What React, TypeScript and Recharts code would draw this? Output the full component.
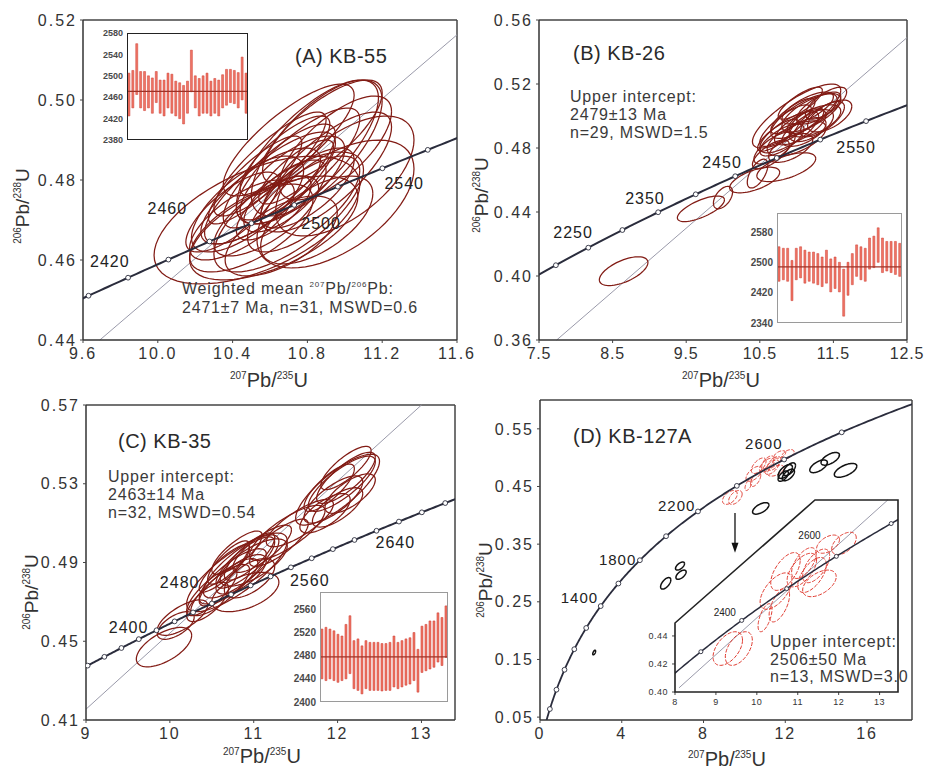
import React from 'react';
import { ScatterChart, Scatter, XAxis, YAxis, ReferenceLine, ReferenceDot, BarChart, Bar } from 'recharts';

type Ell = [number, number, number, number, number]; // centre x, centre y, half-width x, half-width y, error correlation
type Pt = { x: number; y: number };

const FONT = '"Liberation Sans", Arial, Helvetica, sans-serif';
const CURVE = '#2a2c3c';
const BROWN = '#821c15';

// U decay constants (per Ma)
const L238 = 1.55125e-4;
const L235 = 9.8485e-4;

// ---------------- Panel A: KB-55 ----------------
const ellipsesA: Ell[] = [
  [10.53, 0.470, 0.55, 0.016, 0.55], [10.62, 0.468, 0.45, 0.013, 0.6], [10.70, 0.472, 0.40, 0.015, 0.7],
  [10.95, 0.474, 0.42, 0.016, 0.55], [11.00, 0.481, 0.37, 0.015, 0.6], [10.85, 0.488, 0.35, 0.017, 0.7],
  [10.80, 0.487, 0.38, 0.018, 0.75], [10.60, 0.478, 0.35, 0.014, 0.8], [10.55, 0.476, 0.32, 0.012, 0.75],
  [10.65, 0.481, 0.30, 0.013, 0.8], [10.72, 0.480, 0.28, 0.011, 0.7], [10.48, 0.474, 0.30, 0.012, 0.7],
  [10.58, 0.471, 0.28, 0.010, 0.7], [10.75, 0.484, 0.33, 0.014, 0.8], [10.90, 0.482, 0.35, 0.015, 0.75],
  [10.68, 0.476, 0.22, 0.009, 0.7], [10.62, 0.473, 0.20, 0.008, 0.7], [10.80, 0.478, 0.25, 0.010, 0.7],
  [10.50, 0.468, 0.33, 0.011, 0.65], [10.45, 0.470, 0.28, 0.010, 0.7], [10.70, 0.490, 0.35, 0.014, 0.8],
  [10.88, 0.492, 0.32, 0.013, 0.75], [10.60, 0.484, 0.30, 0.013, 0.85], [10.40, 0.472, 0.25, 0.010, 0.75],
  [10.85, 0.470, 0.30, 0.011, 0.6], [10.66, 0.466, 0.30, 0.010, 0.6], [10.78, 0.474, 0.30, 0.012, 0.7],
  [10.95, 0.488, 0.30, 0.013, 0.7], [10.52, 0.480, 0.25, 0.011, 0.85], [10.74, 0.482, 0.20, 0.008, 0.8],
  [10.68, 0.486, 0.24, 0.010, 0.8],
];
const markerAgesA = [2400, 2420, 2440, 2460, 2480, 2500, 2520, 2540, 2560, 2580];
const labelAgesA = [2420, 2460, 2500, 2540];
const discordiaA: [Pt, Pt] = [{ x: 9.69, y: 0.44 }, { x: 11.6, y: 0.5163 }];
const spotAgesA: [number, number][] = [
  [2425, 2505], [2440, 2510], [2465, 2560], [2440, 2508], [2435, 2508], [2440, 2500], [2430, 2496], [2450, 2508],
  [2430, 2492], [2425, 2492], [2440, 2505], [2430, 2503], [2425, 2490], [2420, 2487], [2410, 2482], [2430, 2490],
  [2470, 2548], [2440, 2500], [2425, 2495], [2430, 2500], [2430, 2505], [2425, 2490], [2430, 2495], [2425, 2492],
  [2440, 2502], [2445, 2512], [2450, 2512], [2448, 2510], [2440, 2506], [2455, 2535], [2430, 2505],
];
const meanAgeA = 2471;

// ---------------- Panel B: KB-26 ----------------
const ellipsesB: Ell[] = [
  [8.65, 0.403, 0.33, 0.009, 0.6], [9.70, 0.442, 0.32, 0.008, 0.7], [10.0, 0.449, 0.13, 0.007, 0.5],
  [10.43, 0.460, 0.34, 0.008, 0.6], [10.86, 0.468, 0.40, 0.009, 0.6], [10.47, 0.464, 0.14, 0.009, 0.6],
  [11.00, 0.500, 0.60, 0.020, 0.8], [11.10, 0.500, 0.45, 0.014, 0.75], [10.90, 0.490, 0.40, 0.013, 0.75],
  [11.20, 0.502, 0.40, 0.012, 0.7], [11.05, 0.493, 0.35, 0.011, 0.7], [10.80, 0.485, 0.30, 0.010, 0.7],
  [11.25, 0.497, 0.35, 0.010, 0.6], [11.15, 0.505, 0.35, 0.010, 0.7], [10.95, 0.500, 0.30, 0.011, 0.8],
  [11.30, 0.505, 0.30, 0.010, 0.7], [10.70, 0.480, 0.28, 0.010, 0.7], [11.00, 0.486, 0.40, 0.011, 0.6],
  [11.35, 0.498, 0.30, 0.011, 0.7], [11.10, 0.490, 0.30, 0.009, 0.6], [10.85, 0.494, 0.35, 0.013, 0.8],
  [11.40, 0.508, 0.28, 0.010, 0.7], [11.20, 0.494, 0.30, 0.010, 0.6], [10.75, 0.488, 0.28, 0.010, 0.8],
  [11.05, 0.508, 0.30, 0.010, 0.8], [11.45, 0.500, 0.30, 0.010, 0.6], [10.65, 0.476, 0.25, 0.009, 0.7],
  [11.12, 0.497, 0.25, 0.008, 0.7], [10.92, 0.480, 0.30, 0.009, 0.6],
];
const markerAgesB = [2150, 2200, 2250, 2300, 2350, 2400, 2450, 2500, 2550, 2600, 2650];
const labelAgesB = [2250, 2350, 2450, 2550];
const discordiaB: [Pt, Pt] = [{ x: 7.74, y: 0.36 }, { x: 12.5, y: 0.549 }];
const spotAgesB: [number, number][] = [
  [2450, 2541], [2454, 2537], [2450, 2537], [2399, 2505], [2454, 2537], [2459, 2541], [2445, 2532], [2450, 2527],
  [2445, 2527], [2441, 2523], [2436, 2514], [2445, 2532], [2422, 2509], [2431, 2514], [2422, 2500], [2358, 2482],
  [2413, 2500], [2441, 2523], [2463, 2546], [2454, 2541], [2450, 2537], [2482, 2564], [2486, 2569], [2500, 2591],
  [2473, 2564], [2477, 2555], [2473, 2555], [2468, 2555], [2463, 2550],
];
const meanAgeB = 2488;

// ---------------- Panel C: KB-35 ----------------
const ellipsesC: Ell[] = [
  [9.93, 0.447, 0.33, 0.010, 0.6], [10.07, 0.458, 0.22, 0.007, 0.6], [10.15, 0.462, 0.30, 0.009, 0.7],
  [10.80, 0.485, 0.60, 0.020, 0.8], [10.85, 0.488, 0.45, 0.016, 0.8], [10.75, 0.483, 0.40, 0.014, 0.8],
  [10.90, 0.490, 0.35, 0.013, 0.8], [10.70, 0.480, 0.35, 0.012, 0.8], [10.95, 0.493, 0.30, 0.012, 0.8],
  [10.60, 0.476, 0.35, 0.013, 0.8], [10.85, 0.484, 0.30, 0.010, 0.7], [11.00, 0.490, 0.40, 0.012, 0.7],
  [10.65, 0.487, 0.30, 0.012, 0.85], [10.80, 0.495, 0.30, 0.011, 0.8], [10.50, 0.475, 0.30, 0.012, 0.8],
  [10.95, 0.482, 0.30, 0.010, 0.6], [10.70, 0.490, 0.25, 0.011, 0.8], [10.45, 0.470, 0.25, 0.010, 0.7],
  [11.10, 0.497, 0.35, 0.012, 0.8], [10.90, 0.475, 0.40, 0.010, 0.5], [11.40, 0.505, 0.45, 0.014, 0.8],
  [11.55, 0.510, 0.40, 0.012, 0.8], [11.30, 0.500, 0.35, 0.012, 0.8], [12.00, 0.527, 0.50, 0.018, 0.8],
  [12.05, 0.530, 0.40, 0.014, 0.8], [11.95, 0.522, 0.35, 0.012, 0.75], [12.10, 0.533, 0.35, 0.013, 0.8],
  [11.90, 0.528, 0.30, 0.012, 0.8], [12.15, 0.525, 0.30, 0.010, 0.7], [12.00, 0.518, 0.30, 0.010, 0.7],
  [11.85, 0.515, 0.30, 0.010, 0.7], [12.10, 0.538, 0.30, 0.011, 0.8],
];
const markerAgesC = [2340, 2360, 2380, 2400, 2420, 2440, 2460, 2480, 2500, 2520, 2540, 2560, 2580, 2600, 2620, 2640, 2660, 2680, 2700];
const labelAgesC = [2400, 2480, 2560, 2640];
const discordiaC: [Pt, Pt] = [{ x: 9.0, y: 0.4155 }, { x: 13.0, y: 0.57 }];
const spotAgesC: [number, number][] = [
  [2440, 2526], [2437, 2529], [2440, 2526], [2437, 2523], [2434, 2517], [2437, 2514], [2440, 2534], [2449, 2549],
  [2423, 2506], [2420, 2509], [2414, 2497], [2423, 2506], [2420, 2503], [2420, 2503], [2420, 2503], [2419, 2501],
  [2420, 2501], [2420, 2503], [2426, 2514], [2423, 2503], [2426, 2506], [2429, 2509], [2431, 2511], [2437, 2520],
  [2417, 2491], [2451, 2531], [2454, 2534], [2457, 2540], [2460, 2540], [2469, 2554], [2463, 2546], [2477, 2566],
];
const meanAgeC = 2478;

// ---------------- Panel D: KB-127A ----------------
const ellipsesDConcordant: Ell[] = [
  [9.29, 0.431, 0.36, 0.012, 0.5], [9.56, 0.431, 0.33, 0.012, 0.5], [10.20, 0.453, 0.17, 0.010, 0.6],
  [10.47, 0.472, 0.39, 0.013, 0.6], [10.70, 0.486, 0.36, 0.0135, 0.6], [11.10, 0.487, 0.36, 0.012, 0.6],
  [11.35, 0.4835, 0.35, 0.0125, 0.6], [11.53, 0.4775, 0.41, 0.0095, 0.5], [11.74, 0.5055, 0.28, 0.0065, 0.5],
  [12.13, 0.506, 0.30, 0.008, 0.5], [11.15, 0.492, 0.30, 0.011, 0.6], [11.45, 0.490, 0.33, 0.012, 0.6],
  [10.55, 0.462, 0.25, 0.012, 0.6],
];
const ellipsesDOther: Ell[] = [
  [12.00, 0.476, 0.35, 0.012, 0.6], [12.15, 0.470, 0.30, 0.010, 0.6], [12.20, 0.480, 0.30, 0.011, 0.6],
  [11.90, 0.468, 0.25, 0.009, 0.6], [13.63, 0.485, 0.43, 0.011, 0.6], [14.20, 0.498, 0.45, 0.011, 0.6],
  [14.95, 0.478, 0.55, 0.012, 0.6], [10.80, 0.412, 0.40, 0.010, 0.6], [6.15, 0.282, 0.25, 0.010, 0.6],
  [6.85, 0.312, 0.22, 0.007, 0.6], [6.90, 0.297, 0.25, 0.008, 0.6], [2.65, 0.162, 0.07, 0.004, 0.6],
];
const markerAgesD = [200, 400, 600, 800, 1000, 1200, 1400, 1600, 1800, 2000, 2200, 2400, 2600, 2800];
const labelAgesD = [1400, 1800, 2200, 2600];
const markerAgesDInset = [2300, 2400, 2500, 2600, 2700];
const labelAgesDInset = [2400, 2600];
const discordiaDInset: [Pt, Pt] = [{ x: 8.1, y: 0.403 }, { x: 13.2, y: 0.537 }];

// ---------------- helpers ----------------
const onConcordia = (t: number) => ({ x: Math.expm1(L235 * t), y: Math.expm1(L238 * t), age: t });

function ageSteps(from: number, to: number, step: number): number[] {
  const out: number[] = [];
  for (let t = from; t <= to + 1e-9; t += step) out.push(t);
  return out;
}

function ellipseOutline([cx, cy, a, b, r]: Ell): Pt[] {
  const s = Math.sqrt(1 - r * r);
  const pts: Pt[] = [];
  for (let i = 0; i <= 64; i++) {
    const t = (i / 64) * Math.PI * 2;
    pts.push({ x: cx + a * Math.cos(t), y: cy + b * (r * Math.cos(t) + s * Math.sin(t)) });
  }
  return pts;
}

const noMark = () => <g />;

type Group = { data: Ell[]; stroke: string; width: number; dash?: string };

type PanelProps = {
  left: number; top: number; width: number; height: number;
  margin: { top: number; right: number; bottom: number; left: number };
  yAxisWidth: number; xAxisHeight: number;
  xDomain: [number, number]; yDomain: [number, number];
  xTicks: number[]; yTicks: number[]; xDigits: number; yDigits: number;
  tickFont: number; tickSpacing: number; xTickSpacing?: number; tickSize?: number; tickMargin?: number;
  showAxisLines?: boolean; frame?: boolean;
  curveAges: number[]; markerAges: number[]; markerR: number; curveWidth: number;
  labelAges: number[]; labelOffsets: [number, number][]; labelFont: number;
  discordia?: [Pt, Pt];
  groups: Group[];
  children?: React.ReactNode;
};

function ConcordiaPanel(p: PanelProps) {
  const curve = p.curveAges.map(onConcordia);
  const markers = p.markerAges.map(onConcordia);
  const labelled = p.labelAges.map(onConcordia);
  const offsetOf = new Map<number, [number, number]>(p.labelAges.map((a, i) => [a, p.labelOffsets[i]]));
  const tickStyle = (sp: number) => ({ fill: '#333', fontSize: p.tickFont, fontFamily: FONT, style: { letterSpacing: `${sp}px` } });
  const showLines = p.showAxisLines !== false;
  const axisLine = showLines ? { stroke: '#333', strokeWidth: 1.5 } : false;
  const ring = (s: any) => (
    <circle cx={s.cx} cy={s.cy} r={p.markerR} fill="#fff" stroke={CURVE} strokeWidth={0.9} />
  );
  const ageText = (s: any) => {
    const [dx, dy] = offsetOf.get(s.payload.age) ?? [0, 0];
    return (
      <text x={s.cx + dx} y={s.cy + dy} dominantBaseline="central" fontSize={p.labelFont}
        fontFamily={FONT} fill="#222" style={{ letterSpacing: p.labelFont > 12 ? '1px' : '0px' }}>
        {s.payload.age}
      </text>
    );
  };
  return (
    <div style={{ position: 'absolute', left: p.left, top: p.top }}>
      <ScatterChart width={p.width} height={p.height} margin={p.margin}>
        <XAxis type="number" dataKey="x" domain={p.xDomain} allowDataOverflow ticks={p.xTicks} interval={0}
          tickFormatter={(v: number) => v.toFixed(p.xDigits)} height={p.xAxisHeight}
          tick={tickStyle(p.xTickSpacing ?? p.tickSpacing)}
          tickSize={p.tickSize ?? 3} tickMargin={p.tickMargin ?? 5} axisLine={axisLine}
          tickLine={{ stroke: '#444' }} />
        <YAxis type="number" dataKey="y" domain={p.yDomain} allowDataOverflow ticks={p.yTicks} interval={0}
          tickFormatter={(v: number) => v.toFixed(p.yDigits)} width={p.yAxisWidth} tick={tickStyle(p.tickSpacing)}
          tickSize={p.tickSize ?? 3} tickMargin={p.tickMargin ?? 3} axisLine={axisLine}
          tickLine={{ stroke: '#444' }} />
        {p.frame !== false && <ReferenceLine x={p.xDomain[1]} stroke="#444" strokeWidth={1.5} />}
        {p.frame !== false && <ReferenceLine y={p.yDomain[1]} stroke="#444" strokeWidth={1.5} />}
        {p.discordia && <ReferenceLine segment={p.discordia} stroke="#9a9aaa" strokeWidth={1} />}
        {p.groups.flatMap((g, gi) =>
          g.data.map((e, i) => (
            <Scatter key={`e${gi}-${i}`} data={ellipseOutline(e)} shape={noMark} legendType="none"
              line={{ stroke: g.stroke, strokeWidth: g.width, strokeDasharray: g.dash }}
              isAnimationActive={false} />
          )),
        )}
        <Scatter data={curve} shape={noMark} line={{ stroke: CURVE, strokeWidth: p.curveWidth }} isAnimationActive={false} />
        <Scatter data={markers} shape={ring} isAnimationActive={false} />
        <Scatter data={labelled} shape={ageText} isAnimationActive={false} />
        {p.children}
      </ScatterChart>
    </div>
  );
}

type InsetProps = {
  left: number; top: number; plotW: number; plotH: number; yW: number;
  domain: [number, number]; ticks: number[]; ranges: [number, number][]; mean: number;
  frameColor: string; frameWidth: number; fontSize: number;
};

function AgeInset(p: InsetProps) {
  const data = p.ranges.map((r, i) => ({ n: i + 1, range: r }));
  const m = { top: 6, right: 4, bottom: 6, left: 0 };
  return (
    <div style={{ position: 'absolute', left: p.left, top: p.top }}>
      <BarChart width={p.yW + p.plotW + m.right} height={p.plotH + m.top + m.bottom} data={data} margin={m}
        barCategoryGap="24%">
        <XAxis dataKey="n" hide />
        <YAxis type="number" domain={p.domain} allowDataOverflow ticks={p.ticks} interval={0} width={p.yW}
          tickSize={0} tickMargin={4} axisLine={false} tickLine={false}
          tick={{ fill: '#4a4a4a', fontSize: p.fontSize, fontFamily: FONT, fontWeight: 'bold' }} />
        <Bar dataKey="range" fill="#f07666" stroke="#cc3a30" strokeWidth={0.5} isAnimationActive={false} />
        <ReferenceLine y={p.mean} stroke="#9c3328" strokeWidth={1.2} />
      </BarChart>
      <div style={{
        position: 'absolute', left: p.yW, top: m.top, width: p.plotW, height: p.plotH,
        border: `${p.frameWidth}px solid ${p.frameColor}`, boxSizing: 'border-box', pointerEvents: 'none',
      }} />
    </div>
  );
}

function Ratio({ x, y, top, bottom, size, vertical }: { x: number; y: number; top: string; bottom: string; size: number; vertical?: boolean }) {
  const small = Math.round(size * 0.5);
  const lift = size * 0.42;
  return (
    <text x={x} y={y} fontSize={size} fontFamily={FONT} fill="#333"
      textAnchor={vertical ? 'middle' : 'start'}
      transform={vertical ? `rotate(-90 ${x} ${y})` : undefined}>
      <tspan fontSize={small} dy={-lift}>{top}</tspan>
      <tspan dy={lift}>Pb/</tspan>
      <tspan fontSize={small} dy={-lift}>{bottom}</tspan>
      <tspan dy={lift}>U</tspan>
    </text>
  );
}

function Lines({ x, y, lines, size, gap }: { x: number; y: number; lines: React.ReactNode[]; size: number; gap: number }) {
  return (
    <>
      {lines.map((l, i) => (
        <text key={i} x={x} y={y + i * gap} fontSize={size} fontFamily={FONT} fill="#3a3a3a"
          style={{ letterSpacing: '0.8px' }}>{l}</text>
      ))}
    </>
  );
}

const arrowHead = (s: any) => (
  <path d={`M${s.cx - 3.5},${s.cy - 10} L${s.cx + 3.5},${s.cy - 10} L${s.cx},${s.cy} Z`} fill="#111" />
);

export default function App() {
  const brownGroup = (data: Ell[]): Group => ({ data, stroke: BROWN, width: 1.25 });
  return (
    <div style={{ position: 'absolute', left: 0, top: 0, width: 925, height: 772, background: '#fff', overflow: 'hidden' }}>
      {/* (A) KB-55 */}
      <ConcordiaPanel left={0} top={0} width={480} height={380} margin={{ top: 20, right: 23, bottom: 10, left: 25 }}
        yAxisWidth={58} xAxisHeight={30} xDomain={[9.6, 11.6]} yDomain={[0.44, 0.52]}
        xTicks={[9.6, 10.0, 10.4, 10.8, 11.2, 11.6]} yTicks={[0.44, 0.46, 0.48, 0.5, 0.52]} xDigits={1} yDigits={2}
        tickFont={16} tickSpacing={2}
        curveAges={ageSteps(2380, 2600, 2)} markerAges={markerAgesA} markerR={2.4} curveWidth={2}
        labelAges={labelAgesA} labelOffsets={[[-38, -16], [-62, -33], [7, 19], [2, 15]]} labelFont={16}
        discordia={discordiaA} groups={[brownGroup(ellipsesA)]} />
      <AgeInset left={91} top={27} plotW={121} plotH={107} yW={36} domain={[2380, 2580]}
        ticks={[2380, 2420, 2460, 2500, 2540, 2580]} ranges={spotAgesA} mean={meanAgeA}
        frameColor="#222" frameWidth={1.3} fontSize={9} />

      {/* (B) KB-26 */}
      <ConcordiaPanel left={460} top={0} width={465} height={380} margin={{ top: 20, right: 18, bottom: 10, left: 21 }}
        yAxisWidth={58} xAxisHeight={30} xDomain={[7.5, 12.5]} yDomain={[0.36, 0.56]}
        xTicks={[7.5, 8.5, 9.5, 10.5, 11.5, 12.5]} yTicks={[0.36, 0.4, 0.44, 0.48, 0.52, 0.56]} xDigits={1} yDigits={2}
        tickFont={16} tickSpacing={2} xTickSpacing={0.8}
        curveAges={ageSteps(2150, 2700, 5)} markerAges={markerAgesB} markerR={2.4} curveWidth={2}
        labelAges={labelAgesB} labelOffsets={[[-35, -15], [-33, -14], [-33, -14], [16, 8]]} labelFont={16}
        discordia={discordiaB} groups={[brownGroup(ellipsesB)]} />
      <AgeInset left={739} top={207} plotW={125} plotH={110} yW={38} domain={[2340, 2630]}
        ticks={[2340, 2420, 2500, 2580]} ranges={spotAgesB} mean={meanAgeB}
        frameColor="#9a9a9a" frameWidth={1.5} fontSize={10} />

      {/* (C) KB-35 */}
      <ConcordiaPanel left={0} top={385} width={475} height={380} margin={{ top: 20, right: 20, bottom: 15, left: 28 }}
        yAxisWidth={58} xAxisHeight={30} xDomain={[9, 13.4]} yDomain={[0.41, 0.57]}
        xTicks={[9, 10, 11, 12, 13]} yTicks={[0.41, 0.45, 0.49, 0.53, 0.57]} xDigits={0} yDigits={2}
        tickFont={16} tickSpacing={2}
        curveAges={ageSteps(2320, 2720, 2)} markerAges={markerAgesC} markerR={2.4} curveWidth={2}
        labelAges={labelAgesC} labelOffsets={[[-30, -12], [-52, -21], [-1, 13], [-1, 12]]} labelFont={16}
        discordia={discordiaC} groups={[brownGroup(ellipsesC)]} />
      <AgeInset left={284} top={586} plotW={128} plotH={110} yW={36} domain={[2400, 2590]}
        ticks={[2400, 2440, 2480, 2520, 2560]} ranges={spotAgesC} mean={meanAgeC}
        frameColor="#9a9a9a" frameWidth={1.5} fontSize={10} />

      {/* (D) KB-127A */}
      <ConcordiaPanel left={460} top={380} width={465} height={390} margin={{ top: 20, right: 13, bottom: 20, left: 22 }}
        yAxisWidth={58} xAxisHeight={30} xDomain={[0, 18.2]} yDomain={[0.045, 0.6]}
        xTicks={[0, 4, 8, 12, 16]} yTicks={[0.05, 0.15, 0.25, 0.35, 0.45, 0.55]} xDigits={0} yDigits={2}
        tickFont={16} tickSpacing={2}
        curveAges={ageSteps(0, 3020, 10)} markerAges={markerAgesD} markerR={2.4} curveWidth={1.8}
        labelAges={labelAgesD} labelOffsets={[[-40, -9], [-41, -1], [-40, -6], [-39, -16]]} labelFont={15}
        groups={[
          { data: ellipsesDConcordant, stroke: '#e0392e', width: 1, dash: '4 1.5' },
          { data: ellipsesDOther, stroke: '#111', width: 1.5 },
        ]}>
        <ReferenceLine segment={[{ x: 9.54, y: 0.404 }, { x: 9.54, y: 0.343 }]} stroke="#111" strokeWidth={1.3} />
        <ReferenceDot x={9.54} y={0.335} shape={arrowHead} />
      </ConcordiaPanel>

      {/* enlarged view of the concordant cluster */}
      <ConcordiaPanel left={640} top={494} width={264} height={222} margin={{ top: 6, right: 6, bottom: 4, left: 0 }}
        yAxisWidth={35} xAxisHeight={20} xDomain={[8, 13.45]} yDomain={[0.4, 0.537]}
        xTicks={[8, 9, 10, 11, 12, 13]} yTicks={[0.4, 0.42, 0.44]} xDigits={0} yDigits={2}
        tickFont={9} tickSpacing={0.5} tickSize={3} tickMargin={4} showAxisLines={false} frame={false}
        curveAges={ageSteps(2150, 2760, 5)} markerAges={markerAgesDInset} markerR={2} curveWidth={1.5}
        labelAges={labelAgesDInset} labelOffsets={[[-28, -8], [-38, -21]]} labelFont={10}
        discordia={discordiaDInset}
        groups={[{ data: ellipsesDConcordant, stroke: '#e0392e', width: 1, dash: '4 1.5' }]} />

      <svg width={925} height={772} style={{ position: 'absolute', left: 0, top: 0, pointerEvents: 'none' }}>
        <polygon points="675,692 675,623 815,500 898,500 898,692" fill="none" stroke="#222" strokeWidth={1.6} />

        <text x={295} y={63} fontSize={20} fontFamily={FONT} fill="#2a2a2a" style={{ letterSpacing: '0.5px' }}>(A) KB-55</text>
        <text x={573} y={60} fontSize={20} fontFamily={FONT} fill="#2a2a2a" style={{ letterSpacing: '0.5px' }}>(B) KB-26</text>
        <text x={118} y={448} fontSize={20} fontFamily={FONT} fill="#2a2a2a" style={{ letterSpacing: '0.5px' }}>(C) KB-35</text>
        <text x={573} y={443} fontSize={20} fontFamily={FONT} fill="#2a2a2a" style={{ letterSpacing: '0.5px' }}>(D) KB-127A</text>

        <Lines x={182} y={294} size={16} gap={19} lines={[
          <>Weighted mean <tspan fontSize={8} dy={-7}>207</tspan><tspan dy={7}>Pb/</tspan><tspan fontSize={8} dy={-7}>206</tspan><tspan dy={7}>Pb:</tspan></>,
          '2471±7 Ma, n=31, MSWD=0.6',
        ]} />
        <Lines x={570} y={102} size={16} gap={18} lines={['Upper intercept:', '2479±13 Ma', 'n=29, MSWD=1.5']} />
        <Lines x={108} y={482} size={16} gap={18} lines={['Upper intercept:', '2463±14 Ma', 'n=32, MSWD=0.54']} />
        <Lines x={770} y={647} size={16} gap={17.5} lines={['Upper intercept:', '2506±50 Ma', 'n=13, MSWD=3.0']} />

        <Ratio x={230} y={387} top="207" bottom="235" size={20} />
        <Ratio x={682} y={387} top="207" bottom="235" size={20} />
        <Ratio x={223} y={763} top="207" bottom="235" size={20} />
        <Ratio x={688} y={766} top="207" bottom="235" size={20} />
        <Ratio x={29} y={206} top="206" bottom="238" size={19} vertical />
        <Ratio x={488} y={195} top="206" bottom="238" size={19} vertical />
        <Ratio x={38} y={592} top="206" bottom="238" size={19} vertical />
        <Ratio x={492} y={580} top="206" bottom="238" size={19} vertical />
      </svg>
    </div>
  );
}
